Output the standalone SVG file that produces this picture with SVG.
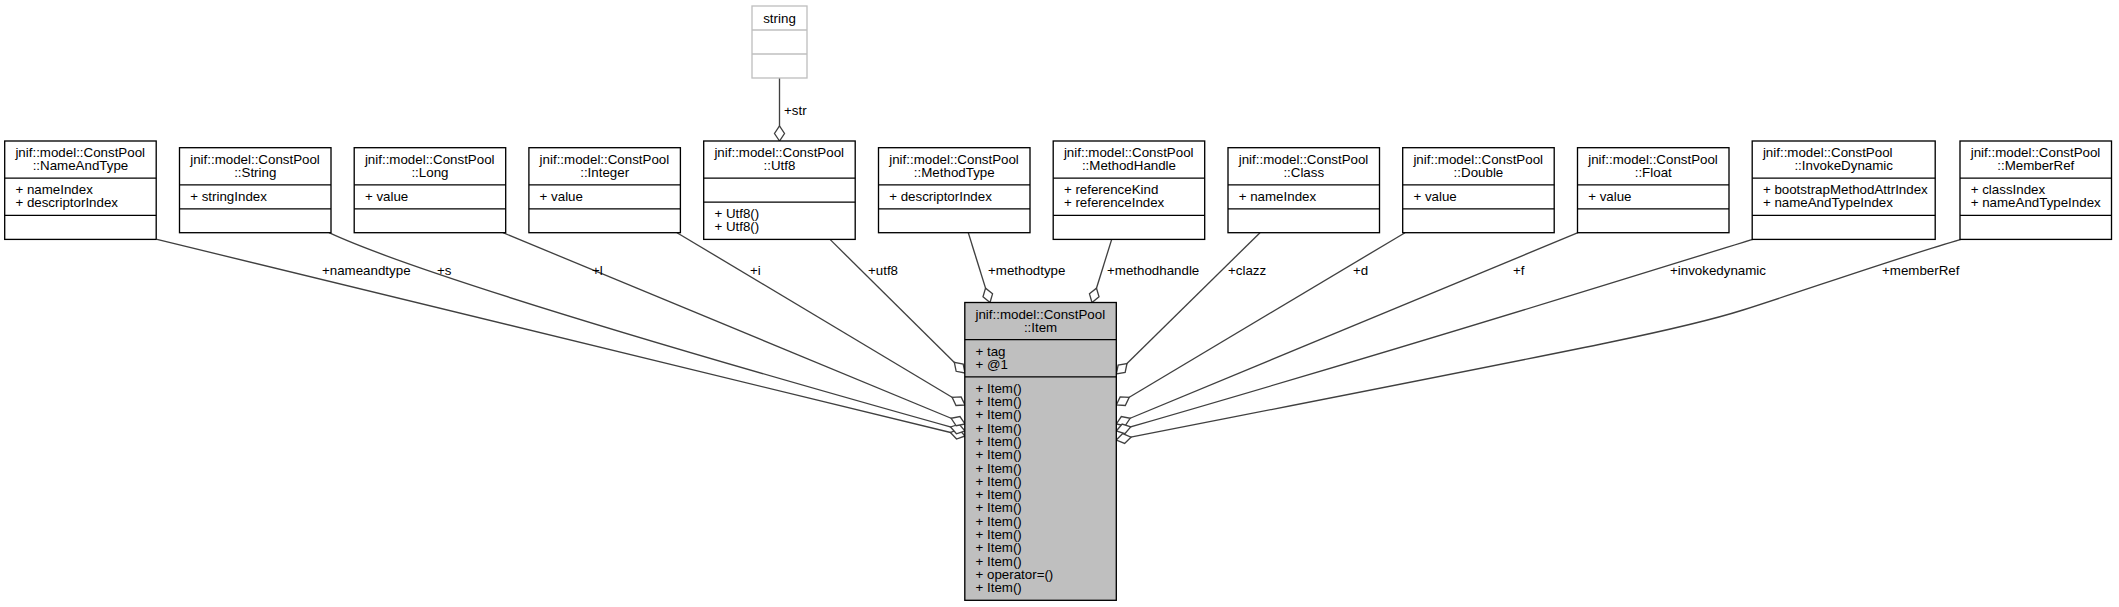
<svg xmlns="http://www.w3.org/2000/svg" width="2119" height="607" viewBox="0 0 2119 607">
<defs>
<style>
.bx{fill:#fff;stroke:#000;stroke-width:1.33}
.it{fill:#bfbfbf;stroke:#000;stroke-width:1.33}
.gr{fill:#fff;stroke:#bfbfbf;stroke-width:1.33}
.dv{stroke:#000;stroke-width:1.33}
.dg{stroke:#bfbfbf;stroke-width:1.33}
text{font-family:"Liberation Sans",Arial,Helvetica,sans-serif;font-size:13.33px;fill:#000}
.c{text-anchor:middle}
.e{fill:none;stroke:#404040;stroke-width:1.33;marker-start:url(#dia)}
</style>
<marker id="dia" markerUnits="userSpaceOnUse" markerWidth="20" markerHeight="20" refX="0" refY="0" orient="auto" overflow="visible">
<path d="M0,0 L7.5,-5 L15,0 L7.5,5 Z" fill="#fff" stroke="#404040" stroke-width="1.33"/>
</marker>
</defs>
<rect width="2119" height="607" fill="#fff"/>

<g id="edges">
<path class="e" d="M779.5,141 L779.5,78"/>
<path class="e" d="M965,436 C500,322 190,250 157,239.4"/>
<path class="e" d="M965,431 C700,357 420,275 329,232.7"/>
<path class="e" d="M965,424 L503,232.7"/>
<path class="e" d="M965,405 L677,232.7"/>
<path class="e" d="M965,373 L830,239.4"/>
<path class="e" d="M990,302.5 L968.3,232.7"/>
<path class="e" d="M1092,302.5 L1111.7,239.4"/>
<path class="e" d="M1116.3,374 L1260,232.7"/>
<path class="e" d="M1116.3,405 L1405,232.7"/>
<path class="e" d="M1116.3,424 L1578,232.7"/>
<path class="e" d="M1116.3,431 C1450,335 1710,252 1753,239.4"/>
<path class="e" d="M1116.3,440 C1600,345 1680,330 1743,310 C1800,292 1900,257 1961,239.4"/>
<text x="784" y="114.5">+str</text>
<text x="322" y="275">+nameandtype</text>
<text x="437" y="275">+s</text>
<text x="592" y="275">+l</text>
<text x="750" y="275">+i</text>
<text x="868" y="275">+utf8</text>
<text x="988" y="275">+methodtype</text>
<text x="1107" y="275">+methodhandle</text>
<text x="1228" y="275">+clazz</text>
<text x="1353" y="275">+d</text>
<text x="1513" y="275">+f</text>
<text x="1670" y="275">+invokedynamic</text>
<text x="1882" y="275">+memberRef</text>
</g>

<g id="node_string">
<rect class="gr" x="752" y="6" width="55" height="72"/>
<line class="dg" x1="752" y1="30" x2="807" y2="30"/>
<line class="dg" x1="752" y1="54" x2="807" y2="54"/>
<text class="c" x="779.5" y="22.5">string</text>
</g>

<g id="node_NameAndType">
<rect class="bx" x="4.7" y="141" width="151.5" height="98.4"/>
<line class="dv" x1="4.7" y1="178.2" x2="156.2" y2="178.2"/>
<line class="dv" x1="4.7" y1="215.4" x2="156.2" y2="215.4"/>
<text x="15.4" y="157">jnif::model::ConstPool</text>
<text class="c" x="80.45" y="170.3">::NameAndType</text>
<text x="15.4" y="194">+ nameIndex</text>
<text x="15.4" y="207.3">+ descriptorIndex</text>
</g>

<g id="node_String">
<rect class="bx" x="179.5" y="147.7" width="151.5" height="85"/>
<line class="dv" x1="179.5" y1="184.9" x2="331" y2="184.9"/>
<line class="dv" x1="179.5" y1="208.8" x2="331" y2="208.8"/>
<text x="190.2" y="163.7">jnif::model::ConstPool</text>
<text class="c" x="255.25" y="177">::String</text>
<text x="190.2" y="200.7">+ stringIndex</text>
</g>

<g id="node_Long">
<rect class="bx" x="354.2" y="147.7" width="151.5" height="85"/>
<line class="dv" x1="354.2" y1="184.9" x2="505.7" y2="184.9"/>
<line class="dv" x1="354.2" y1="208.8" x2="505.7" y2="208.8"/>
<text x="364.9" y="163.7">jnif::model::ConstPool</text>
<text class="c" x="429.95" y="177">::Long</text>
<text x="364.9" y="200.7">+ value</text>
</g>

<g id="node_Integer">
<rect class="bx" x="528.9" y="147.7" width="151.5" height="85"/>
<line class="dv" x1="528.9" y1="184.9" x2="680.4" y2="184.9"/>
<line class="dv" x1="528.9" y1="208.8" x2="680.4" y2="208.8"/>
<text x="539.6" y="163.7">jnif::model::ConstPool</text>
<text class="c" x="604.65" y="177">::Integer</text>
<text x="539.6" y="200.7">+ value</text>
</g>

<g id="node_Utf8">
<rect class="bx" x="703.7" y="141" width="151.5" height="98.4"/>
<line class="dv" x1="703.7" y1="178.2" x2="855.2" y2="178.2"/>
<line class="dv" x1="703.7" y1="202.1" x2="855.2" y2="202.1"/>
<text x="714.4" y="157">jnif::model::ConstPool</text>
<text class="c" x="779.45" y="170.3">::Utf8</text>
<text x="714.4" y="217.9">+ Utf8()</text>
<text x="714.4" y="231.2">+ Utf8()</text>
</g>

<g id="node_MethodType">
<rect class="bx" x="878.5" y="147.7" width="151.5" height="85"/>
<line class="dv" x1="878.5" y1="184.9" x2="1030" y2="184.9"/>
<line class="dv" x1="878.5" y1="208.8" x2="1030" y2="208.8"/>
<text x="889.2" y="163.7">jnif::model::ConstPool</text>
<text class="c" x="954.25" y="177">::MethodType</text>
<text x="889.2" y="200.7">+ descriptorIndex</text>
</g>

<g id="node_MethodHandle">
<rect class="bx" x="1053.2" y="141" width="151.5" height="98.4"/>
<line class="dv" x1="1053.2" y1="178.2" x2="1204.7" y2="178.2"/>
<line class="dv" x1="1053.2" y1="215.4" x2="1204.7" y2="215.4"/>
<text x="1063.9" y="157">jnif::model::ConstPool</text>
<text class="c" x="1128.95" y="170.3">::MethodHandle</text>
<text x="1063.9" y="194">+ referenceKind</text>
<text x="1063.9" y="207.3">+ referenceIndex</text>
</g>

<g id="node_Class">
<rect class="bx" x="1228" y="147.7" width="151.5" height="85"/>
<line class="dv" x1="1228" y1="184.9" x2="1379.5" y2="184.9"/>
<line class="dv" x1="1228" y1="208.8" x2="1379.5" y2="208.8"/>
<text x="1238.7" y="163.7">jnif::model::ConstPool</text>
<text class="c" x="1303.75" y="177">::Class</text>
<text x="1238.7" y="200.7">+ nameIndex</text>
</g>

<g id="node_Double">
<rect class="bx" x="1402.7" y="147.7" width="151.5" height="85"/>
<line class="dv" x1="1402.7" y1="184.9" x2="1554.2" y2="184.9"/>
<line class="dv" x1="1402.7" y1="208.8" x2="1554.2" y2="208.8"/>
<text x="1413.4" y="163.7">jnif::model::ConstPool</text>
<text class="c" x="1478.45" y="177">::Double</text>
<text x="1413.4" y="200.7">+ value</text>
</g>

<g id="node_Float">
<rect class="bx" x="1577.5" y="147.7" width="151.5" height="85"/>
<line class="dv" x1="1577.5" y1="184.9" x2="1729" y2="184.9"/>
<line class="dv" x1="1577.5" y1="208.8" x2="1729" y2="208.8"/>
<text x="1588.2" y="163.7">jnif::model::ConstPool</text>
<text class="c" x="1653.25" y="177">::Float</text>
<text x="1588.2" y="200.7">+ value</text>
</g>

<g id="node_InvokeDynamic">
<rect class="bx" x="1752.2" y="141" width="183" height="98.4"/>
<line class="dv" x1="1752.2" y1="178.2" x2="1935.2" y2="178.2"/>
<line class="dv" x1="1752.2" y1="215.4" x2="1935.2" y2="215.4"/>
<text x="1762.9" y="157">jnif::model::ConstPool</text>
<text class="c" x="1843.7" y="170.3">::InvokeDynamic</text>
<text x="1762.9" y="194">+ bootstrapMethodAttrIndex</text>
<text x="1762.9" y="207.3">+ nameAndTypeIndex</text>
</g>

<g id="node_MemberRef">
<rect class="bx" x="1960" y="141" width="151.5" height="98.4"/>
<line class="dv" x1="1960" y1="178.2" x2="2111.5" y2="178.2"/>
<line class="dv" x1="1960" y1="215.4" x2="2111.5" y2="215.4"/>
<text x="1970.7" y="157">jnif::model::ConstPool</text>
<text class="c" x="2035.75" y="170.3">::MemberRef</text>
<text x="1970.7" y="194">+ classIndex</text>
<text x="1970.7" y="207.3">+ nameAndTypeIndex</text>
</g>

<g id="node_Item">
<rect class="it" x="964.8" y="302.5" width="151.5" height="297.8"/>
<line class="dv" x1="964.8" y1="339.7" x2="1116.3" y2="339.7"/>
<line class="dv" x1="964.8" y1="376.9" x2="1116.3" y2="376.9"/>
<text x="975.5" y="318.5">jnif::model::ConstPool</text>
<text class="c" x="1040.55" y="331.8">::Item</text>
<text x="975.5" y="355.5">+ tag</text>
<text x="975.5" y="368.8">+ @1</text>
<text x="975.5" y="392.7">+ Item()</text>
<text x="975.5" y="406">+ Item()</text>
<text x="975.5" y="419.3">+ Item()</text>
<text x="975.5" y="432.6">+ Item()</text>
<text x="975.5" y="445.9">+ Item()</text>
<text x="975.5" y="459.2">+ Item()</text>
<text x="975.5" y="472.5">+ Item()</text>
<text x="975.5" y="485.8">+ Item()</text>
<text x="975.5" y="499.1">+ Item()</text>
<text x="975.5" y="512.4">+ Item()</text>
<text x="975.5" y="525.7">+ Item()</text>
<text x="975.5" y="539">+ Item()</text>
<text x="975.5" y="552.3">+ Item()</text>
<text x="975.5" y="565.6">+ Item()</text>
<text x="975.5" y="578.9">+ operator=()</text>
<text x="975.5" y="592.2">+ Item()</text>
</g>
</svg>
